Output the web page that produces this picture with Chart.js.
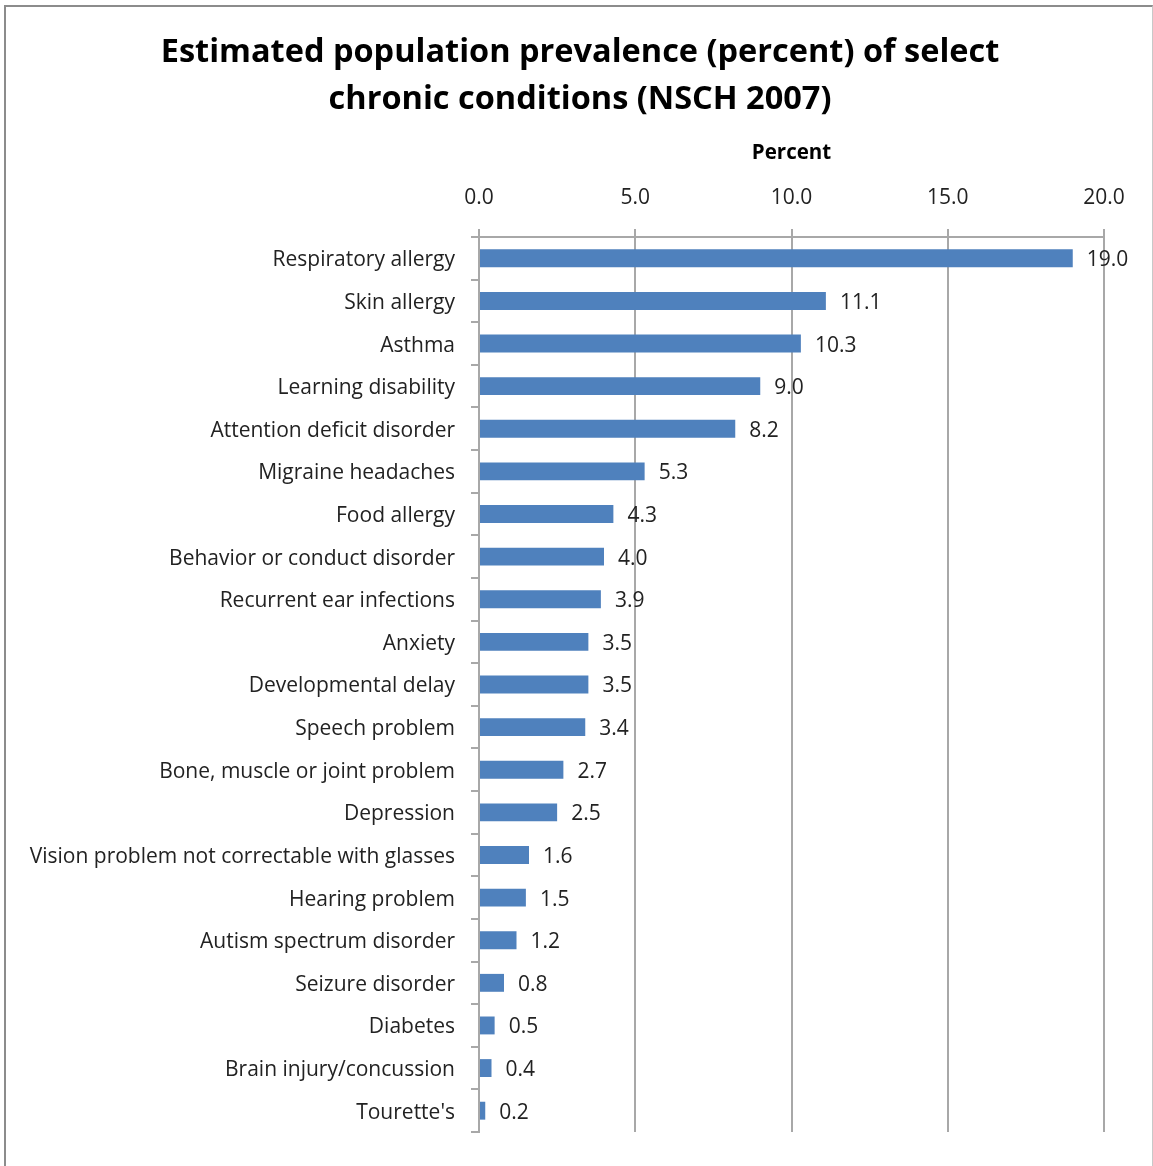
<!DOCTYPE html>
<html>
<head>
<meta charset="utf-8">
<script src="https://cdn.jsdelivr.net/npm/chart.js@4/dist/chart.umd.min.js"></script>
<style>
  body { margin: 0; background: #fff; overflow: hidden; }
  #frame {
    position: absolute; left: 4px; top: 5px; width: 1146px; height: 1200px;
    border-left: 2px solid #8c8c8c; border-top: 2px solid #8c8c8c; border-right: 1px solid #c8c8c8;
  }
  #container { position: absolute; left: 0; top: 0; width: 1153px; height: 1166px; }
</style>
</head>
<body>
<div id="frame"></div>
<div id="container"><canvas id="myChart"></canvas></div>
<script>
var conditions = [
  'Respiratory allergy', 'Skin allergy', 'Asthma', 'Learning disability',
  'Attention deficit disorder', 'Migraine headaches', 'Food allergy',
  'Behavior or conduct disorder', 'Recurrent ear infections', 'Anxiety',
  'Developmental delay', 'Speech problem', 'Bone, muscle or joint problem',
  'Depression', 'Vision problem not correctable with glasses', 'Hearing problem',
  'Autism spectrum disorder', 'Seizure disorder', 'Diabetes',
  'Brain injury/concussion', "Tourette's"
];
var prevalence = [19.0, 11.1, 10.3, 9.0, 8.2, 5.3, 4.3, 4.0, 3.9, 3.5, 3.5, 3.4, 2.7, 2.5, 1.6, 1.5, 1.2, 0.8, 0.5, 0.4, 0.2];
var chartTitle = ['Estimated population prevalence (percent) of select', 'chronic conditions (NSCH 2007)'];
var axisTitle = 'Percent';

var fontName = '"Open Sans", Lato, sans-serif';
var gridCol = '#a8a8a8';

// value labels to the right of each bar
var valueLabels = {
  id: 'valueLabels',
  afterDatasetsDraw: function (chart) {
    var ctx = chart.ctx;
    var meta = chart.getDatasetMeta(0);
    ctx.save();
    ctx.font = '21px ' + fontName;
    ctx.fillStyle = '#222';
    ctx.textAlign = 'left';
    ctx.textBaseline = 'middle';
    meta.data.forEach(function (bar, i) {
      ctx.fillText(prevalence[i].toFixed(1), bar.x + 14, bar.y + 2);
    });
    ctx.restore();
  }
};

// the title sits a bit right of the canvas centre, so draw it here
var titleLines = {
  id: 'titleLines',
  afterDraw: function (chart) {
    var ctx = chart.ctx;
    ctx.save();
    ctx.font = 'bold 32.5px ' + fontName;
    ctx.fillStyle = '#000';
    ctx.textAlign = 'center';
    ctx.textBaseline = 'middle';
    for (var i = 0; i < chartTitle.length; i++) {
      ctx.fillText(chartTitle[i], 580, 53 + i * 47);
    }
    ctx.restore();
  }
};

var ctx = document.getElementById('myChart').getContext('2d');
var myChart = new Chart(ctx, {
  type: 'bar',
  data: {
    labels: conditions,
    datasets: [{
      data: prevalence,
      backgroundColor: '#4f81bd',
      borderWidth: 0,
      barPercentage: 0.42,
      categoryPercentage: 1.0
    }]
  },
  options: {
    indexAxis: 'y',
    responsive: true,
    maintainAspectRatio: false,
    animation: false,
    layout: { padding: { left: 0, right: 49, top: 121, bottom: 34 } },
    plugins: {
      legend: { display: false },
      tooltip: { enabled: false },
      title: { display: false }
    },
    scales: {
      x: {
        position: 'top',
        min: 0,
        max: 20,
        ticks: {
          stepSize: 5,
          color: '#222',
          padding: 18,
          font: { family: fontName, size: 21 },
          callback: function (v) { return v.toFixed(1); }
        },
        title: {
          display: true,
          text: axisTitle,
          color: '#000',
          font: { family: fontName, size: 20.5, weight: 'bold' },
          padding: { top: 20, bottom: 0 }
        },
        grid: { color: gridCol, lineWidth: 2, tickLength: 8 },
        border: { color: gridCol, width: 2 },
        afterFit: function (scale) { scale.height = 116; }
      },
      y: {
        ticks: {
          color: '#222',
          padding: 16,
          labelOffset: 2,
          font: { family: fontName, size: 21 }
        },
        grid: { drawOnChartArea: false, color: gridCol, lineWidth: 2, tickLength: 8 },
        border: { color: gridCol, width: 2 },
        afterFit: function (scale) { scale.width = 479; }
      }
    }
  },
  plugins: [valueLabels, titleLines]
});
</script>
</body>
</html>
